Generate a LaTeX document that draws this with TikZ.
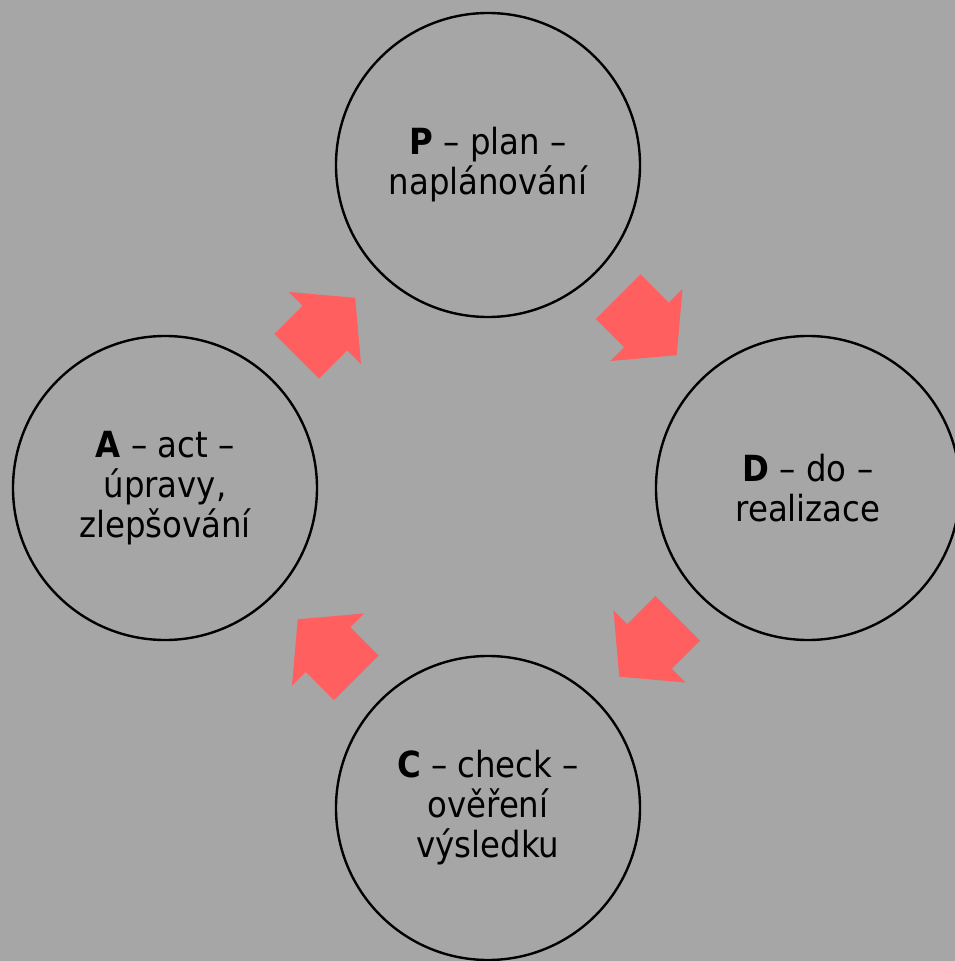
\documentclass[tikz,border=0pt]{standalone}
\usepackage{fontspec}
\setmainfont{DejaVu Sans Condensed}
\usetikzlibrary{shapes.arrows,calc}

\definecolor{bggray}{RGB}{166,166,166}
\definecolor{arrowred}{RGB}{255,95,95}

\begin{document}
\begin{tikzpicture}[x=0.75pt,y=0.75pt,
  phase/.style={circle, draw, line width=1.8pt, minimum size=228pt, align=center, inner sep=0pt, font=\fontsize{27}{30}\selectfont},
  cyclearrow/.style={single arrow, fill=arrowred, draw=none, minimum height=62pt, inner xsep=0pt, inner ysep=23.5pt, single arrow head extend=14.5pt, single arrow tip angle=100}
]
% Background, cut to the page
\fill[bggray] (-488,-473) rectangle (467,488);
\clip (-488,-473) rectangle (467,488);

% The four phases round the centre
\node[phase] (P) at (0,323)  {\textbf{P} – plan –\\naplánování};       % Top
\node[phase] (D) at (320,0)  {\textbf{D} – do –\\realizace};           % Right
\node[phase] (C) at (0,-320) {\textbf{C} – check –\\ověření\\výsledku}; % Bottom
\node[phase] (A) at (-323,0) {\textbf{A} – act –\\úpravy,\\zlepšování}; % Left

% Block arrows between neighbouring phases, set back a little from the midpoint
\node[cyclearrow, rotate=-45]  (pd) at ($(P)!0.5!(D)+(135:14)$)  {};
\node[cyclearrow, rotate=-135] (dc) at ($(D)!0.5!(C)+(45:14)$)   {};
\node[cyclearrow, rotate=135]  (ca) at ($(C)!0.5!(A)+(-45:14)$)  {};
\node[cyclearrow, rotate=45]   (ap) at ($(A)!0.5!(P)+(-135:14)$) {};
\end{tikzpicture}
\end{document}
